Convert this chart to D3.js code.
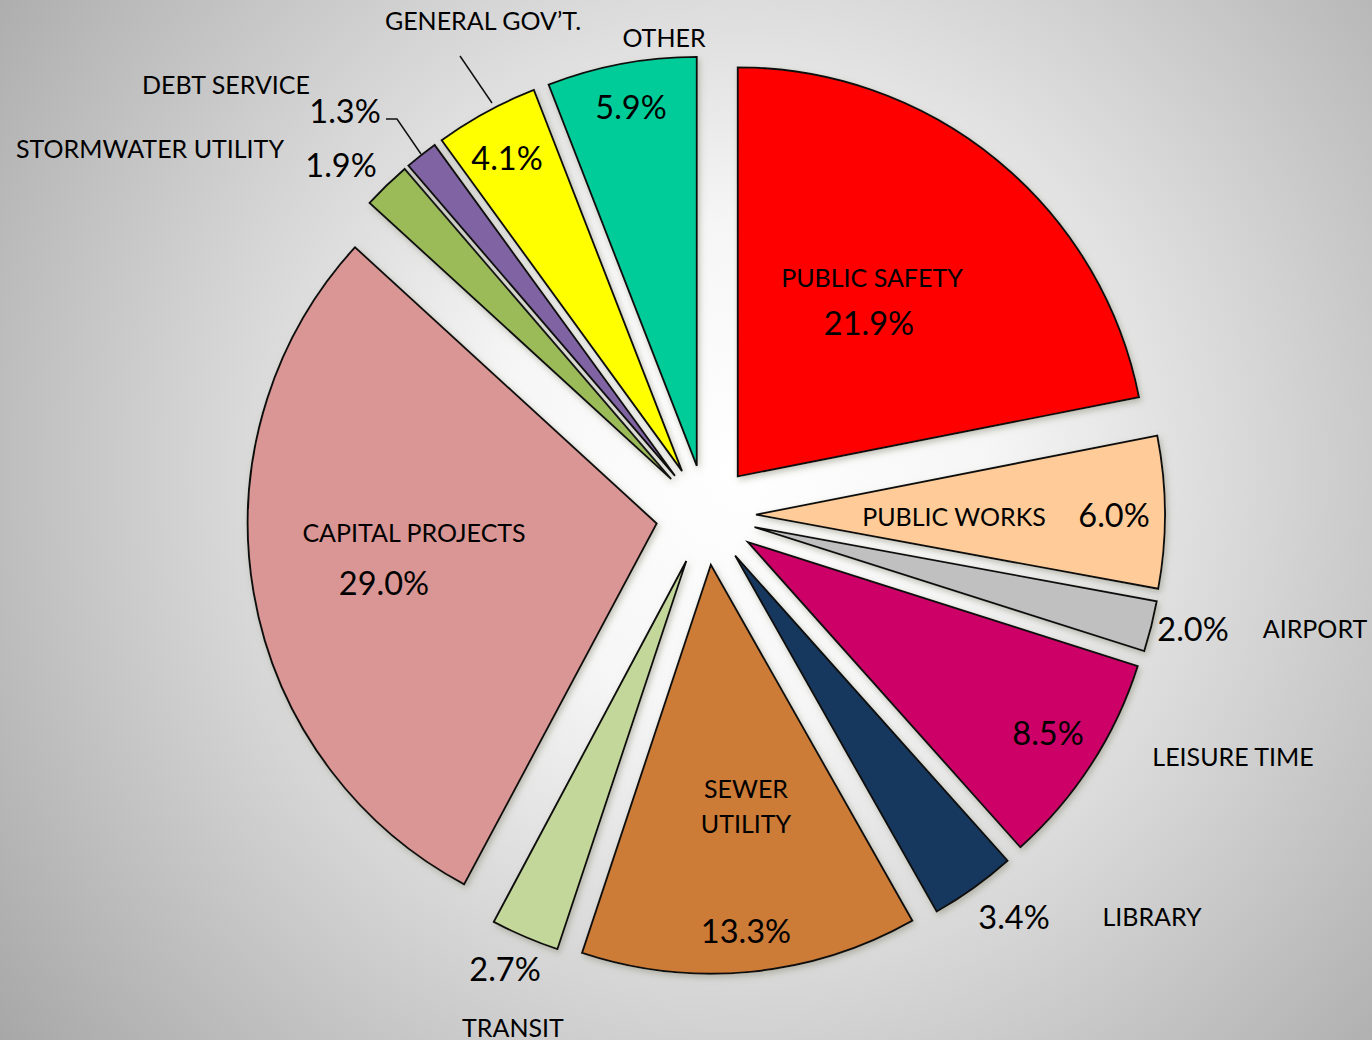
<!DOCTYPE html>
<html><head><meta charset="utf-8">
<script src="https://cdn.jsdelivr.net/npm/d3@7"></script>
<style>html,body{margin:0;padding:0;overflow:hidden;background:#fff}</style>
</head><body>
<svg id="chart" width="1372" height="1040"></svg>
<script>
// ---- data ----
const categories = ["PUBLIC SAFETY","PUBLIC WORKS","AIRPORT","LEISURE TIME","LIBRARY","SEWER UTILITY","TRANSIT","CAPITAL PROJECTS","STORMWATER UTILITY","DEBT SERVICE","GENERAL GOV\u2019T.","OTHER"];
const values = [21.9, 6.0, 2.0, 8.5, 3.4, 13.3, 2.7, 29.0, 1.9, 1.3, 4.1, 5.9];
const percentLabels = ["21.9%","6.0%","2.0%","8.5%","3.4%","13.3%","2.7%","29.0%","1.9%","1.3%","4.1%","5.9%"];
const colors = ["#FF0000","#FFCC99","#C0C0C0","#CC0066","#17375E","#CD7B38","#C4D79B","#DA9694","#9BBB59","#8064A2","#FFFF00","#00CC99"];

// ---- layout (label positions, not data) ----
const nameLines = [["PUBLIC SAFETY"],["PUBLIC WORKS"],["AIRPORT"],["LEISURE TIME"],["LIBRARY"],["SEWER","UTILITY"],["TRANSIT"],["CAPITAL PROJECTS"],["STORMWATER UTILITY"],["DEBT SERVICE"],["GENERAL GOV\u2019T."],["OTHER"]];
const namePos = [[872,277],[954,516],[1315,628],[1233,756],[1152,916],[746,788],[513,1027],[414,532],[150,148],[226,84],[483,20],[664,37]];
const pctPos  = [[869,322],[1114,514],[1193,628],[1048,732],[1014,916],[746,930],[505,968],[384,582],[341,164],[345,110],[507,157],[631,106]];
const leaders = [[[386,119],[397,119],[421,154]], [[460,56],[492,103]]];

const W = 1372, H = 1040;
const cx = 706, cy = 515, R = 409, explode = 50;

const svg = d3.select("#chart");
const defs = svg.append("defs");
const grad = defs.append("radialGradient").attr("id","bg")
  .attr("gradientUnits","userSpaceOnUse").attr("cx",740).attr("cy",470).attr("r",980);
grad.append("stop").attr("offset",0).attr("stop-color","#FFFFFF");
grad.append("stop").attr("offset",0.25).attr("stop-color","#F6F6F6");
grad.append("stop").attr("offset",1).attr("stop-color","#A2A2A2");
svg.append("rect").attr("width",W).attr("height",H).attr("fill","url(#bg)");

const f = defs.append("filter").attr("id","shadow").attr("x","-20%").attr("y","-20%").attr("width","140%").attr("height","140%");
f.append("feDropShadow").attr("dx",2).attr("dy",3).attr("stdDeviation",3)
  .attr("flood-color","#8d8d78").attr("flood-opacity",0.5);

const pie = d3.pie().sort(null).value(d => d);
const arcs = pie(values);
const arc = d3.arc().innerRadius(0).outerRadius(R);

const g = svg.append("g").attr("transform",`translate(${cx},${cy})`);
g.selectAll("path.slice").data(arcs).enter().append("path")
  .attr("class","slice")
  .attr("d", arc)
  .attr("fill",(d,i)=>colors[i])
  .attr("stroke","#111").attr("stroke-width",1.9).attr("stroke-linejoin","miter")
  .attr("filter","url(#shadow)")
  .attr("transform", d => {
    const a = (d.startAngle + d.endAngle)/2;
    return `translate(${explode*Math.sin(a)},${-explode*Math.cos(a)})`;
  });

// leader lines
svg.selectAll("path.leader").data(leaders).enter().append("path")
  .attr("class","leader").attr("d", d3.line()).attr("fill","none")
  .attr("stroke","#111").attr("stroke-width",1.5);

const font = "Lato, 'Open Sans', sans-serif";
categories.forEach((c,i)=>{
  const lines = nameLines[i];
  lines.forEach((ln,j)=>{
    svg.append("text").attr("x",namePos[i][0]).attr("y",namePos[i][1] + j*35)
      .attr("text-anchor","middle").attr("dominant-baseline","central")
      .attr("font-family",font).attr("font-size",25).attr("fill","#000").text(ln);
  });
  svg.append("text").attr("x",pctPos[i][0]).attr("y",pctPos[i][1])
    .attr("text-anchor","middle").attr("dominant-baseline","central")
    .attr("font-family",font).attr("font-size",32.5).attr("fill","#000").text(percentLabels[i]);
});
</script>
</body></html>
